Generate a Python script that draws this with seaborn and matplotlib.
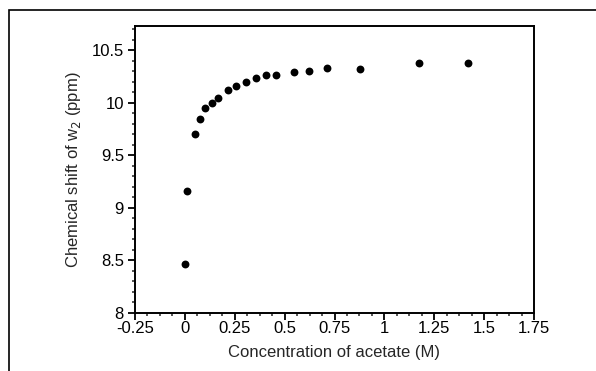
import matplotlib
matplotlib.use("Agg")
import matplotlib.pyplot as plt
from matplotlib.ticker import MultipleLocator, FuncFormatter
from matplotlib.patches import Rectangle
import seaborn as sns
import pandas as pd

concentration = [0.0, 0.01, 0.052, 0.077, 0.102, 0.136, 0.168, 0.218, 0.258, 0.306,
                 0.357, 0.405, 0.458, 0.549, 0.621, 0.711, 0.876, 1.172, 1.421]
shift = [8.47, 9.165, 9.70, 9.85, 9.946, 9.997, 10.048, 10.117, 10.162, 10.197,
         10.235, 10.26, 10.26, 10.292, 10.305, 10.33, 10.32, 10.374, 10.374]

x_ticks = [-0.25, 0, 0.25, 0.5, 0.75, 1, 1.25, 1.5, 1.75]
y_ticks = [8, 8.5, 9, 9.5, 10, 10.5]

sns.set_style("ticks")
plt.rcParams['font.family'] = ['Liberation Sans', 'DejaVu Sans']

df = pd.DataFrame({"conc": concentration, "shift": shift})

fig = plt.figure(figsize=(5.96, 3.71), dpi=100)
ax = fig.add_axes([135/596, 1 - 313/371, (534-135)/596, (313-26)/371])

sns.scatterplot(data=df, x="conc", y="shift", ax=ax, color="black", s=32,
                edgecolor="black", linewidth=0, legend=False)

ax.set_xlim(-0.25, 1.75)
ax.set_ylim(8, 10.73)
ax.set_xticks(x_ticks)
ax.set_yticks(y_ticks)

def fmt(v, pos):
    return f"{v:g}"
ax.xaxis.set_major_formatter(FuncFormatter(fmt))
ax.yaxis.set_major_formatter(FuncFormatter(fmt))
ax.xaxis.set_minor_locator(MultipleLocator(0.0625))
ax.yaxis.set_minor_locator(MultipleLocator(0.1))

for side in ["top", "right", "left", "bottom"]:
    ax.spines[side].set_visible(True)
    ax.spines[side].set_linewidth(1.4)
    ax.spines[side].set_color("black")

ax.tick_params(axis="both", which="major", direction="out", length=5, width=1.3,
               labelsize=12, colors="black")
ax.tick_params(axis="x", which="major", pad=1)
ax.tick_params(axis="y", which="major", pad=3)
ax.tick_params(axis="both", which="minor", direction="out", length=2.5, width=1.1)

ax.set_xlabel("Concentration of acetate (M)", fontsize=12, labelpad=6)
ax.set_ylabel("Chemical shift of w$_2$ (ppm)", fontsize=12, labelpad=6)

# outer frame
fig.patches.append(Rectangle((9/596, -0.05), 1.2, 1 - 10/371 + 0.05,
                             transform=fig.transFigure, fill=False,
                             edgecolor="black", linewidth=1.2))

fig.savefig("out.png", dpi=100)
